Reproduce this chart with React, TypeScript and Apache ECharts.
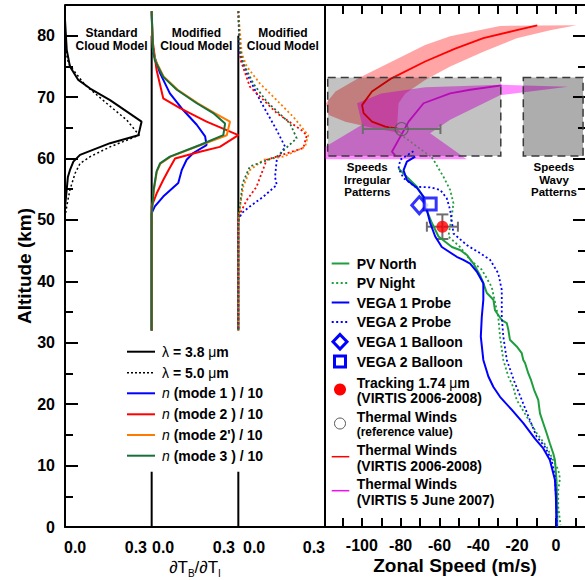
import React, { useEffect, useRef } from "react";
import * as echarts from "echarts";

const FONT = '"Liberation Sans", Arial, Helvetica, sans-serif';

// ---------------- axes ----------------
const ALT_MIN = 0;
const ALT_MAX = 85;
const SPEED_MIN = -119;
const SPEED_MAX = 15;
const altLabelValues = [0, 10, 20, 30, 40, 50, 60, 70, 80];
const speedTickValues = [-110, -100, -90, -80, -70, -60, -50, -40, -30, -20, -10, 0, 10];
const speedLabelValues = [-100, -80, -60, -40, -20, 0];
const weightTickLabels = ["0.0", "0.3"];
const WEIGHT_MAX = 0.3;

// ---------------- left panel: weighting functions [dTB/dTI, altitude] ----------------
const std38um = [[0, 82.6], [0.006, 77.7], [0.017, 75], [0.046, 72.8], [0.087, 71.4], [0.156, 69.5], [0.265, 66.0], [0.254, 63.8], [0.156, 62.5], [0.052, 60.6], [0.029, 59.5], [0.017, 58.1], [0.01, 57], [0.006, 55], [0.002, 53], [0, 52]];
const std50um = [[0, 78.2], [0.012, 75.5], [0.029, 74.4], [0.069, 72], [0.144, 69], [0.213, 66.3], [0.257, 63.8], [0.156, 61.9], [0.087, 60.3], [0.052, 59.2], [0.035, 57.6], [0.017, 54.9], [0.006, 52.2], [0, 50.5]];

const mode1_38 = [[0, 84], [0.002, 80], [0.006, 77.1], [0.029, 73.9], [0.063, 70.6], [0.109, 67.9], [0.156, 65.5], [0.185, 63.6], [0.19, 62.2], [0.144, 60.9], [0.121, 59.8], [0.104, 58.1], [0.092, 56], [0.04, 53.8], [0.011, 52.2], [0, 51.1], [0, 32]];
const mode2_38 = [[0, 84], [0.003, 79.3], [0.017, 74.4], [0.04, 69.8], [0.098, 68.2], [0.19, 66], [0.3, 63.8], [0.236, 61.9], [0.167, 61.1], [0.081, 60], [0.058, 58.1], [0.04, 56.5], [0.017, 54.3], [0, 52.2], [0, 32]];
const mode2p_38 = [[0, 84], [0.004, 78], [0.013, 76], [0.042, 73.3], [0.09, 71.2], [0.16, 69], [0.218, 67.4], [0.271, 66], [0.26, 63.8], [0.17, 62.2], [0.066, 60.3], [0.031, 59.2], [0.018, 57.9], [0.008, 55], [0, 51], [0, 32]];
const mode3_38 = [[0, 84], [0.004, 78], [0.011, 76], [0.04, 73.3], [0.087, 71.2], [0.156, 69], [0.213, 67.4], [0.254, 65.7], [0.248, 63.8], [0.167, 62.2], [0.063, 60.3], [0.029, 59.2], [0.017, 57.9], [0.007, 55], [0, 51], [0, 32]];

const mode1_50 = [[0, 84], [0.004, 77], [0.029, 73.9], [0.075, 69.5], [0.133, 64.6], [0.162, 61.9], [0.133, 59.8], [0.127, 57], [0.133, 55.7], [0.087, 53.8], [0.04, 52.2], [0.012, 51.1], [0, 50], [0, 32]];
const mode2_50 = [[0, 84], [0.008, 76], [0.04, 71.7], [0.133, 67.4], [0.219, 64.6], [0.237, 63.8], [0.225, 61.7], [0.098, 59.8], [0.087, 58.4], [0.063, 55.4], [0.029, 53.2], [0.012, 51.6], [0, 50.5], [0, 32]];
const mode2p_50 = [[0, 84], [0.012, 77.1], [0.029, 75], [0.075, 72.2], [0.133, 69.5], [0.19, 66.8], [0.242, 63.8], [0.231, 61.9], [0.156, 60.3], [0.087, 59.8], [0.04, 58.1], [0.017, 55.4], [0.006, 52.2], [0, 50], [0, 32]];
const mode3_50 = [[0, 84], [0.005, 78], [0.017, 75.5], [0.052, 72.2], [0.098, 69.3], [0.179, 65.7], [0.202, 63.3], [0.133, 60.3], [0.04, 58.7], [0.015, 56], [0.005, 52], [0, 49], [0, 32]];

const separatorUpper = [[0, 80], [0, 32]];
const separatorLower = [[0, 9], [0, 0]];

// ---------------- right panel: zonal speed [m/s, altitude] ----------------
const pvNorth = [[-81.1, 58.4], [-76.8, 57], [-71.6, 55.4], [-69.1, 54.1], [-67.4, 52.2], [-63.9, 49.5], [-60.5, 47.3], [-53.6, 45.6], [-49.4, 45.1], [-45.9, 44.3], [-42.5, 42.9], [-39.1, 41.0], [-37.4, 39.7], [-35.6, 38.1], [-32.2, 37.0], [-31.4, 35.3], [-27.9, 33.7], [-25.3, 33.2], [-24.5, 32.1], [-23.7, 30.5], [-20.2, 29.4], [-17.6, 28.3], [-16.8, 27.2], [-15.9, 26.7], [-14.2, 25.0], [-12.8, 23.9], [-11.2, 22.3], [-9.1, 20.7], [-8.2, 18.5], [-6.5, 16.9], [-4.8, 15.3], [-3.1, 13.6], [-1.4, 12.0], [-0.5, 10.9], [0.3, 7.7], [0.7, 3.3], [0.7, 0]];
const pvNight = [[-64, 60.2], [-63.1, 59.8], [-57.9, 57], [-54.5, 54.9], [-52.8, 52.7], [-53.6, 50.8], [-55.4, 47.3], [-49.4, 45.6], [-44.2, 43.5], [-38.2, 41.9], [-33.1, 39.1], [-29.7, 34.2], [-28.8, 31], [-27.1, 27.2], [-24.5, 24.5], [-22, 22.8], [-20.2, 20.7], [-15.1, 18], [-9.9, 15.3], [-4.8, 13.1], [-2.2, 11.4], [1.2, 9.3], [2.1, 7.9], [1.2, 6], [1.2, 3.3], [2.4, 0.3]];
const vega1Probe = [[-72.5, 60.3], [-76.8, 59.5], [-78.5, 58.1], [-76.8, 56.5], [-71.6, 55.2], [-68.2, 53.8], [-66.5, 51.6], [-64.8, 49.5], [-62.2, 47.3], [-58.8, 45.6], [-51.1, 44], [-47.7, 43.5], [-44.2, 42.9], [-40.8, 41.6], [-37.4, 39.7], [-37.4, 37], [-38.2, 34.2], [-38.7, 31], [-37.4, 27.2], [-34.8, 24.5], [-32.2, 22.8], [-28.8, 21.2], [-22.8, 19.1], [-16.8, 16.9], [-10.8, 14.4], [-6.5, 12.8], [-3.1, 10.9], [-0.5, 7.7], [0, 4.9], [0.3, 0]];
const vega2Probe = [[-73.4, 61.2], [-80.2, 59.8], [-81.1, 58.4], [-78.5, 56.8], [-72.5, 55.4], [-64.8, 55.3], [-59.6, 54.9], [-56.2, 53.5], [-54.5, 51.6], [-53.5, 49.5], [-52.8, 47.8], [-45.9, 45.9], [-39.1, 44.6], [-33.9, 43.5], [-29.7, 41.3], [-27.9, 38.6], [-27.9, 34.2], [-27.1, 31], [-25.3, 27.2], [-21.1, 23.4], [-17.6, 20.7], [-13.4, 17.4], [-9.9, 14.7], [-5.7, 13.1], [-2.2, 10.9], [-0.5, 8.2], [0.3, 3.3], [0.5, 0]];
const thermalExtrapolation = [[-86, 65.3], [-64, 60.2]];
const vega1Balloon = [[-70.4, 52.4]];
const vega2Balloon = [[-64.8, 52.6]];
const tracking174 = [[-58.5, 48.9]];
const thermalReference = [[-79.5, 64.8]];
// [speed, altitude, speed error, altitude error]
const errorBars = [[-79.5, 64.8, 20, 0], [-58.5, 48.9, 8, 2]];

const thermalVirtis = [[-9.6, 81.7], [-20.2, 80.9], [-37.4, 79.6], [-51.9, 77.9], [-67.4, 75.8], [-84.5, 73.1], [-94.8, 70.9], [-99.9, 68.7], [-99.1, 67.4], [-94.8, 66.0], [-87.9, 65.2], [-80.2, 64.8]];
const thermalVirtisBand = [[10.6, 81.7], [-28.8, 81.6], [-54.5, 79.9], [-67.4, 78.5], [-84.5, 75.8], [-101.6, 73.1], [-113.6, 70.9], [-118.5, 69.0], [-117.1, 67.1], [-108.5, 66.0], [-93, 64.9], [-79.3, 64.1], [-81.9, 64.9], [-81.1, 69.0], [-77.6, 70.6], [-67.4, 72.8], [-54.5, 75.0], [-37.4, 77.4], [-20.2, 79.6], [-3, 80.9]];
const thermalJune2007 = [[-27.9, 71.9], [-44.2, 71.2], [-54.5, 70.6], [-68.2, 69.0], [-75.9, 66.0], [-84.5, 61.1], [-82.8, 60.5]];
const thermalJune2007Band = [[6.3, 71.7], [-28.8, 72.0], [-47.8, 71.8], [-67.4, 71.6], [-90, 70.6], [-102.5, 69.0], [-99.9, 65.5], [-118.9, 61.9], [-118.9, 59.9], [-45.9, 59.9], [-64.8, 64.1], [-54.5, 66.3], [-28.8, 70.3]];
// [speed min, speed max, altitude min, altitude max]
const irregularBox = [-117.6, -28.4, 60.4, 73.2];
const wavyBox = [-16.8, 14.0, 60.4, 73.2];

// ---------------- colors ----------------
const C_BLUE = "#0000ff";
const C_RED = "#ff0000";
const C_ORANGE = "#ff7a00";
const C_DKGREEN = "#17703a";
const C_GREEN = "#1f9e3e";
const C_MAGENTA = "#ee11ee";
const C_GRAY = "#6e6e6e";

function lineSeries(data: number[][], axis: number, color: string, width: number, dash: any, z = 3): any {
  return {
    type: "line",
    xAxisIndex: axis,
    yAxisIndex: axis,
    data,
    symbol: "none",
    showSymbol: false,
    clip: false,
    silent: true,
    z,
    lineStyle: { color, width, type: dash ? dash : "solid" },
  };
}

function polygonSeries(points: number[][], fill: string, z: number): any {
  return {
    type: "custom",
    xAxisIndex: 3,
    yAxisIndex: 3,
    silent: true,
    z,
    data: [[-50, 70]],
    renderItem: (_p: any, api: any) => ({
      type: "polygon",
      shape: { points: points.map((p) => api.coord(p)) },
      style: { fill },
    }),
  };
}

function boxSeries(box: number[], fill: string, z: number): any {
  return {
    type: "custom",
    xAxisIndex: 3,
    yAxisIndex: 3,
    silent: true,
    z,
    data: [[box[0], box[2]]],
    renderItem: (_p: any, api: any) => {
      const a = api.coord([box[0], box[3]]);
      const b = api.coord([box[1], box[2]]);
      return {
        type: "rect",
        shape: { x: a[0], y: a[1], width: b[0] - a[0], height: b[1] - a[1] },
        style: { fill, stroke: "#3a3a3a", lineWidth: 1.5, lineDash: [8, 5] },
      };
    },
  };
}

const axisBase = {
  splitLine: { show: false },
  minorSplitLine: { show: false },
};

function buildOption(): any {
  const leftX = [0, 1, 2].map((i) => ({
    ...axisBase,
    type: "value",
    gridIndex: i,
    min: 0,
    max: WEIGHT_MAX,
    position: "bottom",
    axisLine: { show: true, onZero: false, lineStyle: { color: "#000", width: 2 } },
    axisTick: { show: false },
    axisLabel: { show: false },
  }));

  const xAxis: any[] = [
    ...leftX,
    {
      ...axisBase,
      type: "value",
      gridIndex: 3,
      min: SPEED_MIN,
      max: SPEED_MAX,
      position: "bottom",
      axisLine: { show: true, onZero: false, lineStyle: { color: "#000", width: 2 } },
      axisTick: { show: true, inside: true, length: 9, customValues: speedTickValues, lineStyle: { color: "#000", width: 2 } },
      axisLabel: { show: true, customValues: speedLabelValues, color: "#000", fontFamily: FONT, fontWeight: "bold", fontSize: 16, margin: 10 },
      name: "Zonal Speed (m/s)",
      nameLocation: "middle",
      nameGap: 29,
      nameMoveOverlap: false,
      nameTextStyle: { color: "#000", fontFamily: FONT, fontWeight: "bold", fontSize: 19 },
    },
    {
      ...axisBase,
      type: "value",
      gridIndex: 3,
      min: SPEED_MIN,
      max: SPEED_MAX,
      position: "top",
      axisLine: { show: true, onZero: false, lineStyle: { color: "#000", width: 2 } },
      axisTick: { show: true, inside: true, length: 9, customValues: speedTickValues, lineStyle: { color: "#000", width: 2 } },
      axisLabel: { show: false },
    },
  ];

  const yAxis: any[] = [
    {
      ...axisBase,
      type: "value",
      gridIndex: 0,
      min: ALT_MIN,
      max: ALT_MAX,
      interval: 10,
      position: "left",
      axisLine: { show: true, onZero: false, lineStyle: { color: "#000", width: 2 } },
      axisTick: { show: true, inside: true, length: 13, lineStyle: { color: "#000", width: 2 } },
      minorTick: { show: true, splitNumber: 2, length: 8, lineStyle: { color: "#000", width: 2 } },
      axisLabel: { color: "#000", fontFamily: FONT, fontWeight: "bold", fontSize: 16, margin: 10, customValues: altLabelValues, showMaxLabel: true, showMinLabel: true },
      name: "Altitude (km)",
      nameLocation: "middle",
      nameGap: 31,
      nameRotate: 90,
      nameMoveOverlap: false,
      nameTextStyle: { color: "#000", fontFamily: FONT, fontWeight: "bold", fontSize: 19 },
    },
    { ...axisBase, type: "value", gridIndex: 1, min: ALT_MIN, max: ALT_MAX, show: false },
    { ...axisBase, type: "value", gridIndex: 2, min: ALT_MIN, max: ALT_MAX, show: false },
    {
      ...axisBase,
      type: "value",
      gridIndex: 3,
      min: ALT_MIN,
      max: ALT_MAX,
      interval: 10,
      position: "right",
      axisLine: { show: false, onZero: false },
      axisTick: { show: true, inside: true, length: 12, lineStyle: { color: "#000", width: 2 } },
      minorTick: { show: true, splitNumber: 2, length: 7, lineStyle: { color: "#000", width: 2 } },
      axisLabel: { show: false },
    },
    {
      ...axisBase,
      type: "value",
      gridIndex: 3,
      min: ALT_MIN,
      max: ALT_MAX,
      position: "left",
      axisLine: { show: true, onZero: false, lineStyle: { color: "#000", width: 2 } },
      axisTick: { show: false },
      axisLabel: { show: false },
    },
  ];

  const dot = [2, 2.5];
  const series: any[] = [
    // separators
    lineSeries(separatorUpper, 1, "#000", 2, null, 1),
    lineSeries(separatorLower, 1, "#000", 2, null, 1),
    lineSeries(separatorUpper, 2, "#000", 2, null, 1),
    lineSeries(separatorLower, 2, "#000", 2, null, 1),
    // standard cloud model
    lineSeries(std50um, 0, "#000", 1.5, dot),
    lineSeries(std38um, 0, "#000", 2, null),
    // modified cloud model 3.8 um
    lineSeries(mode1_38, 1, C_BLUE, 2, null),
    lineSeries(mode2_38, 1, C_RED, 2, null),
    lineSeries(mode2p_38, 1, C_ORANGE, 2, null),
    lineSeries(mode3_38, 1, C_DKGREEN, 2, null),
    // modified cloud model 5.0 um
    lineSeries(mode1_50, 2, C_BLUE, 1.8, dot),
    lineSeries(mode2_50, 2, C_RED, 1.8, dot),
    lineSeries(mode2p_50, 2, C_ORANGE, 1.8, dot),
    lineSeries(mode3_50, 2, C_DKGREEN, 1.8, dot),
    // right panel bands & lines
    polygonSeries(thermalVirtisBand, "rgba(255,40,40,0.42)", 1),
    polygonSeries(thermalJune2007Band, "rgba(255,0,255,0.45)", 1),
    lineSeries(thermalVirtis, 3, C_RED, 1.8, null, 2),
    lineSeries(thermalJune2007, 3, C_MAGENTA, 1.8, null, 2),
    boxSeries(irregularBox, "rgba(0,0,0,0.24)", 3),
    boxSeries(wavyBox, "rgba(0,0,0,0.32)", 3),
    lineSeries(thermalExtrapolation, 3, C_GRAY, 1.5, dot, 4),
    {
      type: "custom",
      xAxisIndex: 3,
      yAxisIndex: 3,
      silent: true,
      z: 5,
      data: errorBars,
      renderItem: (_p: any, api: any) => {
        const v = api.value(0);
        const a = api.value(1);
        const dv = api.value(2);
        const da = api.value(3);
        const l = api.coord([v - dv, a]);
        const r = api.coord([v + dv, a]);
        const st = { stroke: C_GRAY, lineWidth: 2 };
        const children: any[] = [
          { type: "line", shape: { x1: l[0], y1: l[1], x2: r[0], y2: r[1] }, style: st },
          { type: "line", shape: { x1: l[0], y1: l[1] - 5, x2: l[0], y2: l[1] + 5 }, style: st },
          { type: "line", shape: { x1: r[0], y1: r[1] - 5, x2: r[0], y2: r[1] + 5 }, style: st },
        ];
        if (da > 0) {
          const t = api.coord([v, a + da]);
          const b = api.coord([v, a - da]);
          children.push(
            { type: "line", shape: { x1: t[0], y1: t[1], x2: b[0], y2: b[1] }, style: st },
            { type: "line", shape: { x1: t[0] - 6, y1: t[1], x2: t[0] + 6, y2: t[1] }, style: st },
            { type: "line", shape: { x1: b[0] - 6, y1: b[1], x2: b[0] + 6, y2: b[1] }, style: st }
          );
        }
        return { type: "group", children };
      },
    },
    lineSeries(pvNight, 3, C_GREEN, 1.8, dot, 6),
    lineSeries(pvNorth, 3, C_GREEN, 2, null, 6),
    lineSeries(vega2Probe, 3, C_BLUE, 1.8, dot, 6),
    lineSeries(vega1Probe, 3, C_BLUE, 2, null, 6),
    {
      type: "scatter", xAxisIndex: 3, yAxisIndex: 3, silent: true, z: 7,
      data: thermalReference, symbol: "circle", symbolSize: 13,
      itemStyle: { color: "rgba(0,0,0,0)", borderColor: "#555", borderWidth: 1.2 },
    },
    {
      type: "scatter", xAxisIndex: 3, yAxisIndex: 3, silent: true, z: 7,
      data: vega1Balloon, symbol: "diamond", symbolSize: [15, 17],
      itemStyle: { color: "#fff", borderColor: C_BLUE, borderWidth: 3 },
    },
    {
      type: "scatter", xAxisIndex: 3, yAxisIndex: 3, silent: true, z: 7,
      data: vega2Balloon, symbol: "rect", symbolSize: 12,
      itemStyle: { color: "#fff", borderColor: C_BLUE, borderWidth: 3 },
    },
    {
      type: "scatter", xAxisIndex: 3, yAxisIndex: 3, silent: true, z: 8,
      data: tracking174, symbol: "circle", symbolSize: 12,
      itemStyle: { color: C_RED },
    },
  ];

  // ---------- graphic: texts & legends ----------
  const bold = (size: number) => ({ fontFamily: FONT, fontWeight: "bold", fontSize: size, fill: "#000" });
  const g: any[] = [];
  // top border of left panel
  g.push({ type: "line", shape: { x1: 65, y1: 5, x2: 325, y2: 5 }, style: { stroke: "#000", lineWidth: 2 } });

  // sub-panel tick labels
  const panelLefts = [64, 152, 243];
  const panelRights = [147, 235, 325];
  for (let i = 0; i < 3; i++) {
    g.push({ type: "text", x: panelLefts[i], y: 547, style: { ...bold(16), text: weightTickLabels[0], align: "left", verticalAlign: "middle" } });
    g.push({ type: "text", x: panelRights[i], y: 547, style: { ...bold(16), text: weightTickLabels[1], align: "right", verticalAlign: "middle" } });
  }
  // x title of left panel
  g.push({
    type: "text", x: 195, y: 567,
    style: {
      text: "{n|∂T}{s|B}{n|/∂T}{s|I}", align: "center", verticalAlign: "middle",
      rich: {
        n: { fontFamily: FONT, fontSize: 17, fill: "#000", lineHeight: 22, verticalAlign: "middle" },
        s: { fontFamily: FONT, fontSize: 10, fill: "#000", lineHeight: 10, verticalAlign: "bottom" },
      },
    },
  });
  // panel titles
  const titles = [["Standard\nCloud Model", 111.5], ["Modified\nCloud Model", 196.3], ["Modified\nCloud Model", 282.8]];
  titles.forEach(([t, x]) => {
    g.push({ type: "text", x, y: 39.5, style: { ...bold(12), text: t, align: "center", verticalAlign: "middle", lineHeight: 13 } });
  });

  // left legend
  const leftRich = {
    b: { fontFamily: FONT, fontWeight: "bold", fontSize: 14, fill: "#000" },
    s: { fontFamily: FONT, fontSize: 14, fill: "#000" },
    i: { fontFamily: FONT, fontStyle: "italic", fontSize: 14, fill: "#000" },
  };
  const leftLegend: any[] = [
    ["{s|λ}{b| = 3.8 }{s|μ}{b|m}", "#000", null, 351.7],
    ["{s|λ}{b| = 5.0 }{s|μ}{b|m}", "#000", [2, 2], 372.7],
    ["{i|n}{b| (mode 1 ) / 10}", C_BLUE, null, 393.3],
    ["{i|n}{b| (mode 2 ) / 10}", C_RED, null, 414.3],
    ["{i|n}{b| (mode 2') / 10}", C_ORANGE, null, 435],
    ["{i|n}{b| (mode 3 ) / 10}", C_DKGREEN, null, 455.7],
  ];
  leftLegend.forEach(([t, c, d, y]) => {
    g.push({ type: "line", shape: { x1: 127, y1: y, x2: 155, y2: y }, style: { stroke: c, lineWidth: d ? 1.5 : 2, lineDash: d || undefined } });
    g.push({ type: "text", x: 162, y, style: { text: t, rich: leftRich, verticalAlign: "middle", align: "left" } });
  });

  // annotations in right panel
  g.push({ type: "text", x: 367.3, y: 179.5, style: { ...bold(11.5), text: "Speeds\nIrregular\nPatterns", align: "center", verticalAlign: "middle", lineHeight: 12.5 } });
  g.push({ type: "text", x: 554, y: 179.5, style: { ...bold(11.5), text: "Speeds\nWavy\nPatterns", align: "center", verticalAlign: "middle", lineHeight: 12.5 } });

  // right legend
  const rx1 = 331.7, rx2 = 349.3, tx = 356.7, sx = 340;
  const rLine = (y: number, c: string, w: number, dash?: number[]) => g.push({ type: "line", shape: { x1: rx1, y1: y, x2: rx2, y2: y }, style: { stroke: c, lineWidth: w, lineDash: dash } });
  const rText = (y: number, t: string, size = 14) => g.push({ type: "text", x: tx, y, style: { ...bold(size), text: t, align: "left", verticalAlign: "middle" } });
  rLine(263.5, C_GREEN, 2); rText(263.5, "PV North");
  rLine(283, C_GREEN, 1.8, [2, 2.5]); rText(283, "PV Night");
  rLine(302.5, C_BLUE, 2); rText(302.5, "VEGA 1 Probe");
  rLine(322, C_BLUE, 1.8, [2, 2.5]); rText(322, "VEGA 2 Probe");
  g.push({ type: "polygon", shape: { points: [[sx, 334.5], [sx + 7, 341.7], [sx, 349], [sx - 7, 341.7]] }, style: { fill: "#fff", stroke: C_BLUE, lineWidth: 3 } });
  rText(341.7, "VEGA 1 Balloon");
  g.push({ type: "rect", shape: { x: sx - 5.5, y: 356, width: 11, height: 11 }, style: { fill: "#fff", stroke: C_BLUE, lineWidth: 3 } });
  rText(361.7, "VEGA 2 Balloon");
  g.push({ type: "circle", shape: { cx: sx, cy: 389.5, r: 6 }, style: { fill: C_RED } });
  g.push({
    type: "text", x: tx, y: 382.7,
    style: { text: "{b|Tracking 1.74 }{s|μ}{b|m}", verticalAlign: "middle", align: "left", rich: leftRich },
  });
  rText(397.5, "(VIRTIS 2006-2008)");
  g.push({ type: "circle", shape: { cx: sx, cy: 423.5, r: 5.5 }, style: { fill: "none", stroke: "#555", lineWidth: 1 } });
  rText(416.7, "Thermal Winds");
  rText(432.3, "(reference value)", 12);
  rLine(456.7, C_RED, 1.5);
  rText(450.3, "Thermal Winds");
  rText(465.8, "(VIRTIS 2006-2008)");
  rLine(490.7, C_MAGENTA, 1.5);
  rText(484.3, "Thermal Winds");
  rText(499.5, "(VIRTIS 5 June 2007)");

  return {
    animation: false,
    backgroundColor: "#fff",
    textStyle: { fontFamily: FONT },
    grid: [
      { left: 65, top: 5, width: 86.67, height: 522, containLabel: false, outerBoundsMode: "none" },
      { left: 151.67, top: 5, width: 86.67, height: 522, containLabel: false, outerBoundsMode: "none" },
      { left: 238.33, top: 5, width: 86.67, height: 522, containLabel: false, outerBoundsMode: "none" },
      { left: 325, top: 5, width: 260, height: 522, containLabel: false, outerBoundsMode: "none" },
    ],
    xAxis,
    yAxis,
    series,
    graphic: { elements: g },
  };
}

export default function App() {
  const ref = useRef<HTMLDivElement>(null);
  useEffect(() => {
    if (!ref.current) return;
    const chart = echarts.init(ref.current, null, { renderer: "svg" });
    chart.setOption(buildOption());
    return () => chart.dispose();
  }, []);
  return <div ref={ref} style={{ position: "absolute", left: 0, top: 0, width: 585, height: 580 }} />;
}
